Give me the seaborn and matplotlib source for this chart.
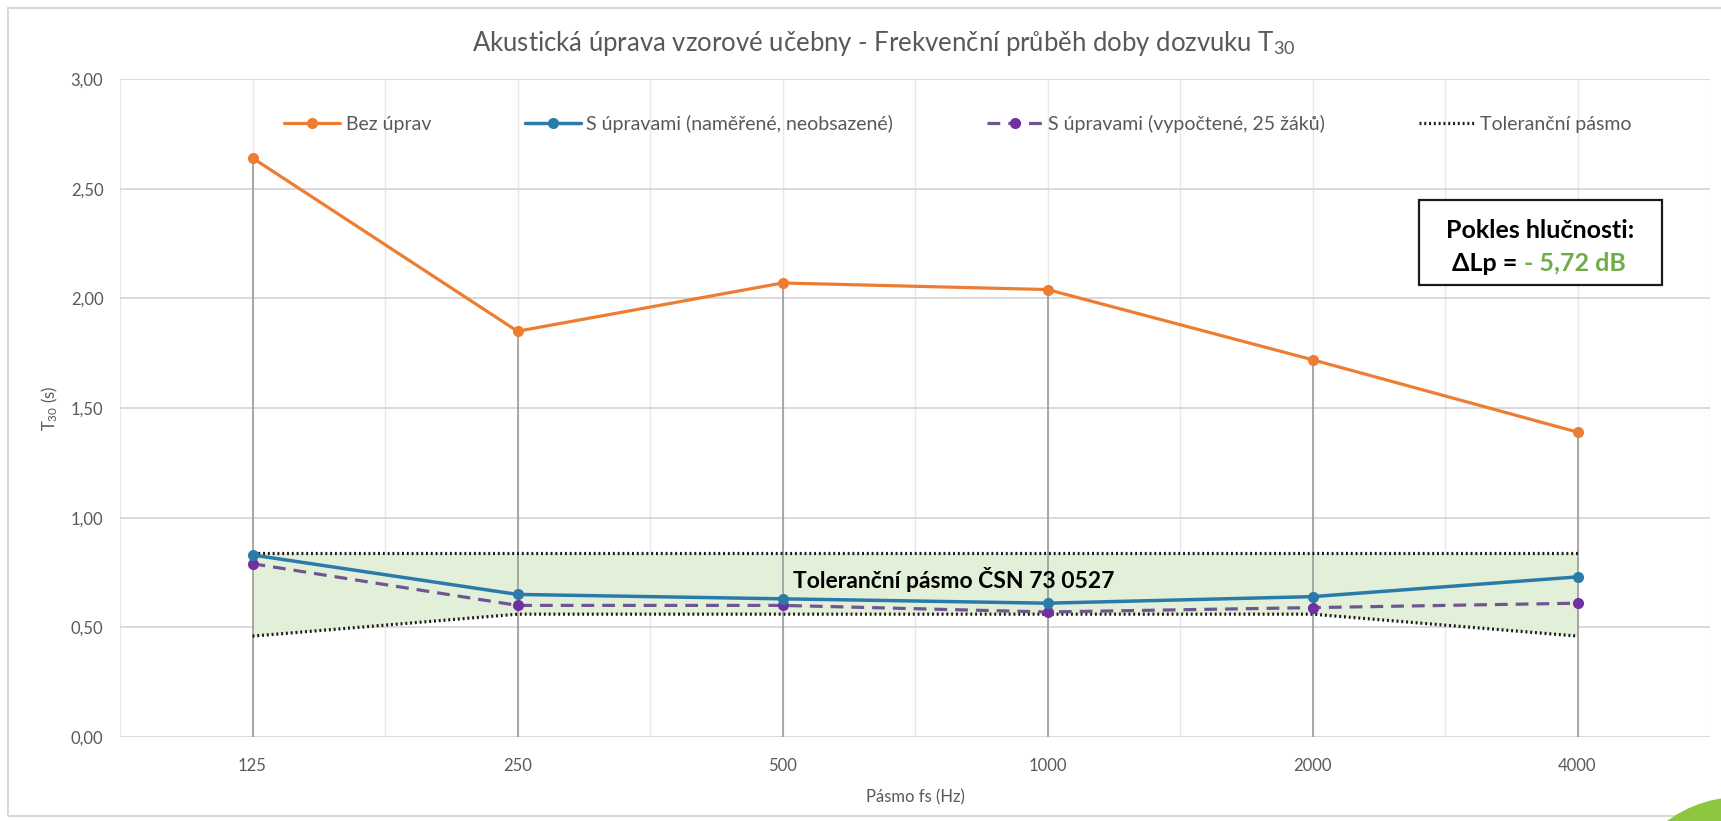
import numpy as np
import pandas as pd
import matplotlib
matplotlib.use("Agg")
import matplotlib.pyplot as plt
import seaborn as sns
from matplotlib.patches import Rectangle, Ellipse

# ---- data ----
categories = ["125", "250", "500", "1000", "2000", "4000"]
bez_uprav = [2.64, 1.85, 2.07, 2.04, 1.72, 1.39]
s_upravami_namerene = [0.83, 0.65, 0.63, 0.61, 0.64, 0.73]
s_upravami_vypoctene = [0.79, 0.60, 0.60, 0.57, 0.59, 0.61]
tol_horni = [0.84, 0.84, 0.84, 0.84, 0.84, 0.84]
tol_dolni = [0.46, 0.56, 0.56, 0.56, 0.56, 0.46]
y_ticks = [0.0, 0.5, 1.0, 1.5, 2.0, 2.5, 3.0]

title_main = "Akustická úprava vzorové učebny - Frekvenční průběh doby dozvuku T$_{\\mathregular{30}}$"
lbl_bez = "Bez úprav"
lbl_nam = "S úpravami (naměřené, neobsazené)"
lbl_vyp = "S úpravami (vypočtené, 25 žáků)"
lbl_tol = "Toleranční pásmo"
tol_text = "Toleranční pásmo ČSN 73 0527"
box_line1 = "Pokles hlučnosti:"
box_line2a = "ΔLp ="
box_line2b = "- 5,72 dB"

sns.set_theme(style="white")
plt.rcParams["font.family"] = ["Lato", "DejaVu Sans"]
plt.rcParams["mathtext.fontset"] = "custom"
plt.rcParams["mathtext.rm"] = "Lato"
plt.rcParams["mathtext.it"] = "Lato:italic"
plt.rcParams["mathtext.bf"] = "Lato:bold"

x = np.arange(len(categories))
df = pd.DataFrame({
    "x": x,
    "bez": bez_uprav,
    "nam": s_upravami_namerene,
    "vyp": s_upravami_vypoctene,
    "horni": tol_horni,
    "dolni": tol_dolni,
})

W, H = 1721, 821
fig = plt.figure(figsize=(W / 100, H / 100), dpi=100)
fig.patch.set_facecolor("white")
ax = fig.add_axes([120 / W, 1 - 737 / H, 1590 / W, 658 / H])

# outer chart border
fig.add_artist(Rectangle((8 / W, 1 - 816 / H), 1.2, (816 - 8) / H, transform=fig.transFigure,
                         fill=False, edgecolor="#d9d9d9", linewidth=1.5))
# decorative green circle (bottom-right)
fig.add_artist(Ellipse((1740 / W, -99 / H), 246 / W, 246 / H, transform=fig.transFigure,
                       facecolor="#8dc63f", edgecolor="none"))

grey_txt = "#595959"

# tolerance band fill
ax.fill_between(df["x"], df["dolni"], df["horni"], color="#e2efd9", zorder=1, linewidth=0)

# drop lines
ax.vlines(df["x"], 0, df["bez"], color="#9a9a9a", linewidth=1.2, zorder=2)

# series
sns.lineplot(data=df, x="x", y="bez", ax=ax, color="#ed7d31", linewidth=2.3,
             marker="o", markersize=8, markeredgewidth=0, label=lbl_bez, zorder=5)
sns.lineplot(data=df, x="x", y="nam", ax=ax, color="#2b7baa", linewidth=2.5,
             marker="o", markersize=8, markeredgewidth=0, label=lbl_nam, zorder=6)
sns.lineplot(data=df, x="x", y="vyp", ax=ax, color="#6f5690", linewidth=2.3,
             linestyle=(0, (4, 2.5)), marker="o", markersize=8, markeredgewidth=0,
             markerfacecolor="#7030a0", label=lbl_vyp, zorder=5)
sns.lineplot(data=df, x="x", y="horni", ax=ax, color="#1a1a1a", linewidth=2.3,
             linestyle=(0, (0.6, 0.9)), label=lbl_tol, zorder=4)
sns.lineplot(data=df, x="x", y="dolni", ax=ax, color="#1a1a1a", linewidth=2.3,
             linestyle=(0, (0.6, 0.9)), label="_nolegend_", zorder=4)

# axes styling
ax.set_xlim(-0.5, len(categories) - 0.5)
ax.set_ylim(0, 3.0)
ax.set_yticks(y_ticks)
ax.set_yticklabels([f"{v:.2f}".replace(".", ",") for v in y_ticks])
ax.set_xticks(x)
ax.set_xticklabels(categories)
ax.set_xticks(np.arange(-0.5, len(categories), 1.0), minor=True)
ax.grid(axis="y", which="major", color="#d9d9d9", linewidth=1.4, zorder=0)
ax.grid(axis="x", which="both", color="#e8e8e8", linewidth=1.0, zorder=0)
ax.set_axisbelow(True)
for s in ax.spines.values():
    s.set_visible(False)
ax.tick_params(axis="both", which="both", length=0, colors=grey_txt, labelsize=12)
ax.tick_params(axis="y", pad=12)
ax.tick_params(axis="x", pad=15)

ax.set_xlabel("Pásmo fs (Hz)", color=grey_txt, fontsize=12, labelpad=11)
ax.set_ylabel("T$_{\\mathregular{30}}$ (s)", color=grey_txt, fontsize=12, labelpad=8)

# title
fig.text(884 / W, 1 - 44 / H, title_main, color=grey_txt, fontsize=18.5,
         ha="center", va="center")

# legend
handles, labels = ax.get_legend_handles_labels()
order = [labels.index(l) for l in [lbl_bez, lbl_nam, lbl_vyp, lbl_tol]]
leg = ax.legend([handles[i] for i in order], [labels[i] for i in order],
                ncol=4, loc="center", bbox_to_anchor=(0.527, 0.932), frameon=False,
                fontsize=14, handlelength=2.9, handletextpad=0.28, columnspacing=4.8)
for t in leg.get_texts():
    t.set_color(grey_txt)

# tolerance band label
ax.text(2.645, 0.72, tol_text, ha="center", va="center", fontsize=16.5,
        fontweight="bold", color="black", zorder=7)

# annotation box
ax.add_patch(Rectangle((4.40, 2.06), 0.92, 0.39, fill=True, facecolor="white",
                       edgecolor="#1a1a1a", linewidth=1.6, zorder=8))
ax.text(4.86, 2.31, box_line1, ha="center", va="center", fontsize=18,
        fontweight="bold", color="black", zorder=9)
ax.text(4.775, 2.16, box_line2a, ha="right", va="center", fontsize=18,
        fontweight="bold", color="black", zorder=9)
ax.text(4.80, 2.16, box_line2b, ha="left", va="center", fontsize=18,
        fontweight="bold", color="#70ad47", zorder=9)

fig.savefig("out.png", dpi=100)
